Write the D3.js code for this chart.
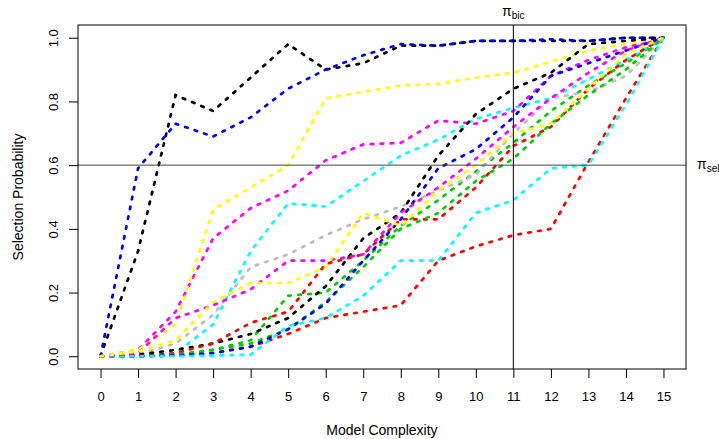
<!DOCTYPE html>
<html>
<head>
<meta charset="utf-8">
<script src="https://cdn.jsdelivr.net/npm/d3@7"></script>
<style>
  body { margin: 0; background: #fff; }
  text { font-family: "Liberation Sans", Arial, sans-serif; }
</style>
</head>
<body>
<div id="container"></div>
<script>
/* DATA */
const complexity = [0, 1, 2, 3, 4, 5, 6, 7, 8, 9, 10, 11, 12, 13, 14, 15];
const yTicks = [0, 0.2, 0.4, 0.6, 0.8, 1.0];
const piSel = 0.6;
const piBic = 11;

// selection probability per model complexity, one array per variable
const black1   = [0, 0.33, 0.82, 0.77, 0.875, 0.98, 0.90, 0.92, 0.975, 0.975, 0.99, 0.99, 0.99, 0.99, 1.00, 1.00];
const redLow   = [0, 0, 0.002, 0.01, 0.03, 0.07, 0.12, 0.14, 0.16, 0.30, 0.345, 0.38, 0.40, 0.61, 0.81, 1.00];
const green1   = [0, 0, 0.005, 0.02, 0.05, 0.19, 0.20, 0.30, 0.41, 0.49, 0.58, 0.67, 0.77, 0.85, 0.92, 1.00];
const blue1    = [0, 0.59, 0.73, 0.69, 0.75, 0.84, 0.90, 0.945, 0.98, 0.975, 0.99, 0.99, 0.995, 0.99, 1.00, 1.00];
const cyan1    = [0, 0, 0.01, 0.10, 0.33, 0.48, 0.47, 0.55, 0.63, 0.68, 0.745, 0.78, 0.81, 0.87, 0.93, 1.00];
const magenta1 = [0, 0.02, 0.14, 0.37, 0.465, 0.52, 0.615, 0.665, 0.67, 0.74, 0.73, 0.77, 0.88, 0.93, 0.97, 1.00];
const yellow1  = [0, 0.02, 0.10, 0.46, 0.53, 0.60, 0.81, 0.83, 0.85, 0.855, 0.875, 0.89, 0.925, 0.96, 0.98, 1.00];
const gray1    = [0, 0.005, 0.04, 0.13, 0.28, 0.32, 0.38, 0.43, 0.47, 0.52, 0.57, 0.70, 0.81, 0.83, 0.88, 1.00];
const black2   = [0, 0.005, 0.02, 0.04, 0.07, 0.12, 0.22, 0.37, 0.45, 0.63, 0.76, 0.84, 0.89, 0.98, 0.99, 1.00];
const red2     = [0, 0, 0.01, 0.04, 0.105, 0.14, 0.29, 0.32, 0.43, 0.43, 0.53, 0.66, 0.72, 0.84, 0.93, 1.00];
const green2   = [0, 0, 0.005, 0.02, 0.04, 0.085, 0.17, 0.28, 0.40, 0.45, 0.55, 0.62, 0.73, 0.82, 0.90, 1.00];
const blue2    = [0, 0, 0.002, 0.01, 0.03, 0.085, 0.165, 0.30, 0.43, 0.59, 0.65, 0.75, 0.88, 0.92, 0.96, 1.00];
const cyanLow  = [0, 0, 0, 0.002, 0.005, 0.095, 0.12, 0.19, 0.30, 0.30, 0.45, 0.49, 0.59, 0.60, 0.79, 1.00];
const magenta2 = [0, 0.01, 0.12, 0.16, 0.21, 0.30, 0.30, 0.32, 0.45, 0.53, 0.62, 0.72, 0.81, 0.89, 0.96, 1.00];
const yellow2  = [0, 0.015, 0.05, 0.17, 0.23, 0.23, 0.28, 0.45, 0.41, 0.52, 0.60, 0.70, 0.73, 0.84, 0.95, 1.00];

// R palette, drawn in this order
const series = [
  { color: "#000000", values: black1 },
  { color: "#FF0000", values: redLow },
  { color: "#00CD00", values: green1 },
  { color: "#0000FF", values: blue1 },
  { color: "#00FFFF", values: cyan1 },
  { color: "#FF00FF", values: magenta1 },
  { color: "#FFFF00", values: yellow1 },
  { color: "#BEBEBE", values: gray1 },
  { color: "#000000", values: black2 },
  { color: "#FF0000", values: red2 },
  { color: "#00CD00", values: green2 },
  { color: "#0000FF", values: blue2 },
  { color: "#00FFFF", values: cyanLow },
  { color: "#FF00FF", values: magenta2 },
  { color: "#FFFF00", values: yellow2 }
];

/* CONSTANTS */
const width = 719,
      height = 439,
      box = { left: 78, right: 686, top: 25, bottom: 369 },
      tickFont = 13,
      titleFont = 14;

/* SCALES */
const xScale = d3.scaleLinear()
  .domain([-0.6, 15.6])
  .range([box.left, box.right]);

const yScale = d3.scaleLinear()
  .domain([-0.04, 1.04])
  .range([box.bottom, box.top]);

const svg = d3.select("#container")
  .append("svg")
  .attr("width", width)
  .attr("height", height);

// + LINES
const line = d3.line()
  .x((d, i) => xScale(complexity[i]))
  .y(d => yScale(d));

svg.append("g")
  .selectAll("path")
  .data(series)
  .join("path")
    .attr("d", d => line(d.values))
    .attr("fill", "none")
    .attr("stroke", d => d.color)
    .attr("stroke-width", 2.7)
    .attr("stroke-linecap", "round")
    .attr("stroke-dasharray", "2.6,7.4");

// + THRESHOLD LINES
svg.append("line")
  .attr("x1", box.left).attr("x2", box.right)
  .attr("y1", yScale(piSel)).attr("y2", yScale(piSel))
  .attr("stroke", "#444").attr("stroke-width", 1);

svg.append("line")
  .attr("x1", xScale(piBic)).attr("x2", xScale(piBic))
  .attr("y1", box.top).attr("y2", box.bottom)
  .attr("stroke", "#000").attr("stroke-width", 1);

// + BOX
svg.append("rect")
  .attr("x", box.left).attr("y", box.top)
  .attr("width", box.right - box.left)
  .attr("height", box.bottom - box.top)
  .attr("fill", "none")
  .attr("stroke", "#000")
  .attr("stroke-width", 1);

// + AXES
const xAxis = d3.axisBottom(xScale)
  .tickValues(complexity)
  .tickFormat(d3.format("d"))
  .tickSize(9)
  .tickPadding(14);

const yAxis = d3.axisLeft(yScale)
  .tickValues(yTicks)
  .tickFormat(d3.format(".1f"))
  .tickSize(9)
  .tickPadding(0);

const gx = svg.append("g")
  .attr("transform", `translate(0, ${box.bottom})`)
  .call(xAxis);

const gy = svg.append("g")
  .attr("transform", `translate(${box.left}, 0)`)
  .call(yAxis);

[gx, gy].forEach(g => {
  g.select(".domain").remove();
  g.selectAll("text")
    .attr("font-family", "Liberation Sans, Arial, sans-serif")
    .attr("font-size", tickFont)
    .attr("fill", "#000");
});

// y labels are written along the axis, as in R
gy.selectAll(".tick text")
  .attr("x", null)
  .attr("text-anchor", "middle")
  .attr("transform", "translate(-25, 0) rotate(-90)")
  .attr("dy", "0.35em");

// + TITLES
svg.append("text")
  .attr("x", (box.left + box.right) / 2)
  .attr("y", 435)
  .attr("text-anchor", "middle")
  .attr("font-size", titleFont)
  .text("Model Complexity");

svg.append("text")
  .attr("transform", `translate(23, ${(box.top + box.bottom) / 2}) rotate(-90)`)
  .attr("text-anchor", "middle")
  .attr("font-size", titleFont)
  .text("Selection Probability");

// π labels
const piSelLabel = svg.append("text")
  .attr("x", 697)
  .attr("y", yScale(piSel) + 4)
  .attr("font-size", 14);
piSelLabel.append("tspan").text("π");
piSelLabel.append("tspan")
  .attr("font-size", 10)
  .attr("dy", 3)
  .text("sel");

const piBicLabel = svg.append("text")
  .attr("x", xScale(piBic))
  .attr("y", 16)
  .attr("text-anchor", "middle")
  .attr("font-size", 14);
piBicLabel.append("tspan").text("π");
piBicLabel.append("tspan")
  .attr("font-size", 10)
  .attr("dy", 3)
  .text("bic");
</script>
</body>
</html>
